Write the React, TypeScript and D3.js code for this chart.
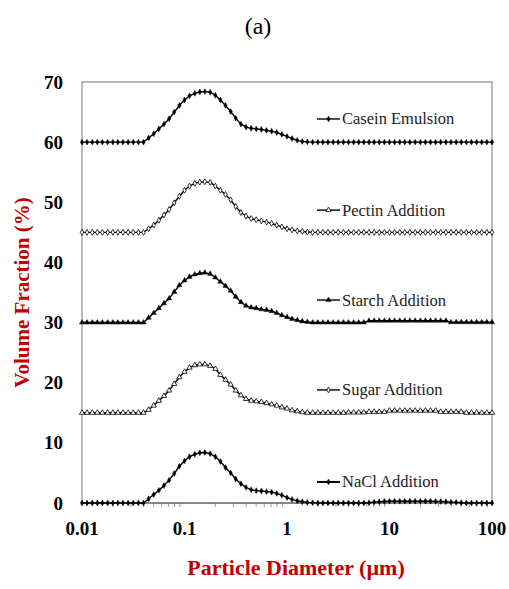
import React, { useRef, useEffect } from "react";
import * as d3 from "d3";

// particle size classes (µm), 20 per decade
const diameters = [
  0.01, 0.0112, 0.0126, 0.0141, 0.0158, 0.0178, 0.02, 0.0224, 0.0251, 0.0282,
  0.0316, 0.0355, 0.0398, 0.0447, 0.0501, 0.0562, 0.0631, 0.0708, 0.0794, 0.0891,
  0.1, 0.112, 0.126, 0.141, 0.158, 0.178, 0.2, 0.224, 0.251, 0.282,
  0.316, 0.355, 0.398, 0.447, 0.501, 0.562, 0.631, 0.708, 0.794, 0.891,
  1, 1.12, 1.26, 1.41, 1.58, 1.78, 2, 2.24, 2.51, 2.82,
  3.16, 3.55, 3.98, 4.47, 5.01, 5.62, 6.31, 7.08, 7.94, 8.91,
  10, 11.2, 12.6, 14.1, 15.8, 17.8, 20, 22.4, 25.1, 28.2,
  31.6, 35.5, 39.8, 44.7, 50.1, 56.2, 63.1, 70.8, 79.4, 89.1, 100,
];

// plotted volume fractions (%), already offset as in the figure
const casein = [
  60, 60, 60, 60, 60, 60, 60, 60, 60, 60, 60, 60, 60,
  60.7, 61.4, 62.2, 63.0, 63.9, 65.0, 66.1, 67.0, 67.7, 68.1, 68.35, 68.4,
  68.3, 67.8, 67.0, 66.1, 65.1, 64.0, 63.0, 62.5, 62.3, 62.2, 62.1, 61.95,
  61.8, 61.6, 61.3, 60.95, 60.6, 60.3, 60.1, 60.05, 60, 60, 60, 60,
  60, 60, 60, 60, 60, 60, 60, 60, 60, 60, 60, 60,
  60, 60, 60, 60, 60, 60, 60, 60, 60, 60, 60, 60,
  60, 60, 60, 60, 60, 60, 60, 60,
];
const pectin = [
  45, 45, 45, 45, 45, 45, 45, 45, 45, 45, 45, 45, 45,
  45.6, 46.2, 47.0, 47.9, 48.8, 49.9, 51.0, 52.0, 52.7, 53.15, 53.35, 53.4,
  53.3, 52.7, 52.0, 51.3, 50.4, 49.3, 48.3, 47.7, 47.3, 47.1, 46.9, 46.7,
  46.5, 46.2, 45.9, 45.6, 45.4, 45.25, 45.15, 45.05, 45, 45, 45, 45,
  45, 45, 45, 45, 45, 45, 45, 45, 45, 45, 45, 45,
  45, 45, 45, 45, 45, 45, 45, 45, 45, 45, 45, 45,
  45, 45, 45, 45, 45, 45, 45, 45,
];
const starch = [
  30, 30, 30, 30, 30, 30, 30, 30, 30, 30, 30, 30, 30,
  30.8, 31.6, 32.4, 33.2, 34.0, 35.1, 36.2, 37.0, 37.6, 38.0, 38.2, 38.3,
  38.1, 37.5, 36.8, 36.1, 35.3, 34.3, 33.4, 32.8, 32.5, 32.4, 32.2, 32.1,
  31.9, 31.6, 31.2, 30.9, 30.6, 30.4, 30.2, 30.1, 30, 30, 30, 30,
  30, 30, 30, 30, 30, 30, 30, 30.3, 30.3, 30.3, 30.3, 30.3,
  30.3, 30.3, 30.3, 30.3, 30.3, 30.3, 30.3, 30.3, 30.3, 30.3, 30.3, 30.05,
  30.05, 30.05, 30.05, 30.05, 30.05, 30.05, 30.05, 30.05,
];
const sugar = [
  15, 15, 15, 15, 15, 15, 15, 15, 15, 15, 15, 15, 15,
  15.5, 16.2, 17.0, 17.8, 18.7, 19.8, 20.9, 21.8, 22.5, 22.9, 23.05, 23.05,
  22.8, 22.3, 21.3, 20.5, 19.7, 18.7, 17.9, 17.3, 17.0, 16.9, 16.8, 16.6,
  16.4, 16.2, 15.9, 15.7, 15.4, 15.25, 15.1, 15, 15, 15, 15, 15,
  15, 15, 15, 15.05, 15.05, 15.05, 15.05, 15.15, 15.15, 15.15, 15.15, 15.35,
  15.35, 15.35, 15.35, 15.35, 15.35, 15.35, 15.35, 15.35, 15.35, 15.15, 15.15, 15.15,
  15.15, 15.15, 15, 15, 15, 15, 15, 15,
];
const nacl = [
  0, 0, 0, 0, 0, 0, 0, 0, 0, 0, 0, 0, 0,
  0.7, 1.4, 2.1, 2.9, 3.8, 4.9, 6.1, 7.0, 7.7, 8.1, 8.35, 8.4,
  8.2, 7.7, 6.9, 5.9, 5.0, 4.0, 3.2, 2.6, 2.2, 2.05, 2.0, 1.9,
  1.8, 1.6, 1.3, 0.9, 0.6, 0.35, 0.2, 0.1, 0.05, 0, 0, 0,
  0, 0, 0, 0, 0, 0, 0, 0.05, 0.15, 0.2, 0.25, 0.3,
  0.3, 0.3, 0.3, 0.3, 0.3, 0.3, 0.3, 0.3, 0.25, 0.25, 0.2, 0.15,
  0.1, 0.05, 0, 0, 0, 0, 0, 0,
];

const seriesNames = ["Casein Emulsion", "Pectin Addition", "Starch Addition", "Sugar Addition", "NaCl Addition"];
const seriesValues = [casein, pectin, starch, sugar, nacl];
// marker on the curve, and the glyph shown beside the label (they differ in the original)
const curveMarkers = ["diamond", "diamondOpen", "triangle", "triangleOpen", "diamond"];
const legendMarkers = ["diamond", "triangleOpen", "triangle", "diamondOpen", "diamond"];
// legend rows sit at these y values (data units)
const legendY = [63.85, 48.7, 33.75, 18.8, 3.5];

const yTicks = [0, 10, 20, 30, 40, 50, 60, 70];
const xTicks = [0.01, 0.1, 1, 10, 100];

const W = 509, H = 589;
const m = { left: 82, right: 492, top: 82, bottom: 503 };
const RED = "#c00000";

function App() {
  const svgRef = useRef();

  useEffect(() => {
    const svg = d3.select(svgRef.current);
    svg.selectAll("*").remove();

    const x = d3.scaleLog().domain([0.01, 100]).range([m.left, m.right]);
    const y = d3.scaleLinear().domain([0, 70]).range([m.bottom, m.top]);

    const sym = (kind) => {
      const type = kind.startsWith("triangle") ? d3.symbolTriangle : d3.symbolDiamond;
      const size = kind.startsWith("triangle") ? 12 : 10;
      return d3.symbol().type(type).size(size)();
    };

    // frame
    svg.append("rect")
      .attr("x", m.left).attr("y", m.top)
      .attr("width", m.right - m.left).attr("height", m.bottom - m.top)
      .attr("fill", "none").attr("stroke", "#8c8c8c").attr("stroke-width", 1.2);

    // minor ticks on the log axis
    const minor = [];
    xTicks.slice(0, -1).forEach(d => { for (let k = 2; k <= 9; k++) minor.push(d * k); });
    svg.append("g").selectAll("line").data(minor).join("line")
      .attr("x1", d => x(d)).attr("x2", d => x(d))
      .attr("y1", m.bottom).attr("y2", m.bottom + 4)
      .attr("stroke", "#999").attr("stroke-width", 1);
    svg.append("line")
      .attr("x1", m.left).attr("x2", m.right).attr("y1", m.bottom).attr("y2", m.bottom)
      .attr("stroke", "#555").attr("stroke-width", 1.2);

    const tickFont = "'Liberation Serif', 'Times New Roman', serif";
    svg.append("g").selectAll("text").data(yTicks).join("text")
      .attr("x", m.left - 19).attr("y", d => y(d) + 6.5)
      .attr("text-anchor", "end")
      .attr("font-family", tickFont).attr("font-weight", "bold").attr("font-size", 19)
      .text(d => d);
    svg.append("g").selectAll("text").data(xTicks).join("text")
      .attr("x", d => x(d)).attr("y", 535)
      .attr("text-anchor", "middle")
      .attr("font-family", tickFont).attr("font-weight", "bold").attr("font-size", 19)
      .text(d => d);

    const line = d3.line().x((d, i) => x(diameters[i])).y(d => y(d));

    seriesValues.forEach((vals, s) => {
      const g = svg.append("g");
      g.append("path").attr("d", line(vals))
        .attr("fill", "none").attr("stroke", "#000").attr("stroke-width", 1.4);
      const kind = curveMarkers[s];
      const open = kind.endsWith("Open");
      g.selectAll("path.mk").data(vals).join("path")
        .attr("class", "mk")
        .attr("d", sym(kind))
        .attr("transform", (d, i) => `translate(${x(diameters[i])},${y(d)})`)
        .attr("fill", open ? "#fff" : "#000")
        .attr("stroke", "#000").attr("stroke-width", open ? 0.8 : 0.4);

      // legend row
      const ly = y(legendY[s]);
      const lg = svg.append("g");
      lg.append("line").attr("x1", 317).attr("x2", 340).attr("y1", ly).attr("y2", ly)
        .attr("stroke", "#000").attr("stroke-width", s === 4 ? 2 : 1.4);
      const lk = legendMarkers[s];
      const lopen = lk.endsWith("Open");
      lg.append("path").attr("d", sym(lk))
        .attr("transform", `translate(328.5,${ly})`)
        .attr("fill", lopen ? "#fff" : "#000")
        .attr("stroke", "#000").attr("stroke-width", lopen ? 0.8 : 0.4);
      lg.append("text").attr("x", 342).attr("y", ly + 5.5)
        .attr("font-family", tickFont).attr("font-size", 16.5)
        .attr("fill", "#222")
        .text(seriesNames[s]);
    });

    // axis titles
    svg.append("text")
      .attr("transform", `translate(29,${(m.top + m.bottom) / 2}) rotate(-90)`)
      .attr("text-anchor", "middle")
      .attr("font-family", tickFont).attr("font-weight", "bold").attr("font-size", 21)
      .attr("fill", RED)
      .text("Volume Fraction (%)");
    svg.append("text")
      .attr("x", 296).attr("y", 575)
      .attr("text-anchor", "middle")
      .attr("font-family", tickFont).attr("font-weight", "bold").attr("font-size", 22)
      .attr("fill", RED)
      .text("Particle Diameter (µm)");
    svg.append("text")
      .attr("x", 258).attr("y", 34)
      .attr("text-anchor", "middle")
      .attr("font-family", tickFont).attr("font-size", 24)
      .text("(a)");
  }, []);

  return (
    <svg ref={svgRef} width={W} height={H}
      style={{ position: "absolute", left: 0, top: 0, background: "#fff" }} />
  );
}

export default App;
